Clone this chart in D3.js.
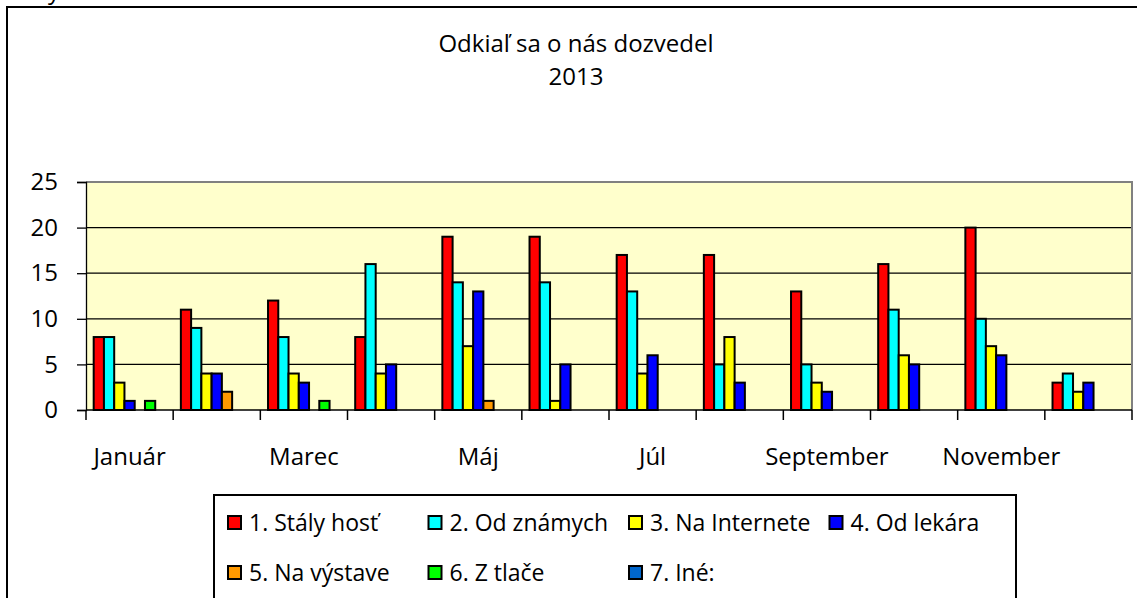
<!DOCTYPE html>
<html>
<head>
<meta charset="utf-8">
<script src="https://cdn.jsdelivr.net/npm/d3@7"></script>
<style>
  body { margin: 0; background: #fff; }
  svg text { font-family: "Open Sans", sans-serif; fill: #000; }
</style>
</head>
<body>
<div id="chart"></div>
<script>
// months on the x axis (only every second one gets a label)
const months = ["Január", "Február", "Marec", "Apríl", "Máj", "Jún", "Júl", "August", "September", "Október", "November", "December"];
const shownMonths = ["Január", "Marec", "Máj", "Júl", "September", "November"];

const seriesNames = ["1. Stály hosť", "2. Od známych", "3. Na Internete", "4. Od lekára", "5. Na výstave", "6. Z tlače", "7. Iné:"];
const seriesColors = ["#ff0000", "#00ffff", "#ffff00", "#0000ff", "#ff9900", "#00ff00", "#0066cc"];

// values per series, Jan..Dec
const stalyHost   = [8, 11, 12, 8, 19, 19, 17, 17, 13, 16, 20, 3];
const odZnamych   = [8, 9, 8, 16, 14, 14, 13, 5, 5, 11, 10, 4];
const naInternete = [3, 4, 4, 4, 7, 1, 4, 8, 3, 6, 7, 2];
const odLekara    = [1, 4, 3, 5, 13, 5, 6, 3, 2, 5, 6, 3];
const naVystave   = [0, 2, 0, 0, 1, 0, 0, 0, 0, 0, 0, 0];
const zTlace      = [1, 0, 1, 0, 0, 0, 0, 0, 0, 0, 0, 0];
const ine         = [0, 0, 0, 0, 0, 0, 0, 0, 0, 0, 0, 0];

const yTicks = [0, 5, 10, 15, 20, 25];

const allSeries = [stalyHost, odZnamych, naInternete, odLekara, naVystave, zTlace, ine];

const width = 1137, height = 598;
const plot = {left: 86, top: 182, right: 1132, bottom: 410};

const svg = d3.select("#chart").append("svg")
    .attr("width", width)
    .attr("height", height);

// cut off text above the chart frame
svg.append("text")
    .attr("x", 48).attr("y", -1.5)
    .style("font-size", "24px")
    .text("y");

// chart area border (right/bottom run off the picture)
svg.append("rect")
    .attr("x", 7).attr("y", 7)
    .attr("width", 1200).attr("height", 700)
    .attr("fill", "none")
    .attr("stroke", "#000")
    .attr("stroke-width", 2);

// title
const title = svg.append("text")
    .attr("text-anchor", "middle")
    .style("font-size", "24px");
title.append("tspan").attr("x", 576).attr("y", 52).text("Odkiaľ sa o nás dozvedel");
title.append("tspan").attr("x", 576).attr("y", 85).text("2013");

// scales
var x0 = d3.scaleBand()
    .domain(months)
    .range([plot.left, plot.right])
    .padding(0);

// excel style gap width 150%
var gap = 0.75 / 8.5;
var x1 = d3.scaleBand()
    .domain(d3.range(seriesNames.length))
    .range([x0.bandwidth() * gap, x0.bandwidth() * (1 - gap)])
    .padding(0);

var y = d3.scaleLinear()
    .domain([0, 25])
    .range([plot.bottom, plot.top]);

// plot background
svg.append("rect")
    .attr("x", plot.left).attr("y", plot.top)
    .attr("width", plot.right - plot.left)
    .attr("height", plot.bottom - plot.top)
    .attr("fill", "#ffffcc");

// gridlines
svg.append("g")
    .selectAll("line")
    .data(yTicks.filter(d => d > 0 && d < 25))
    .enter().append("line")
        .attr("x1", plot.left).attr("x2", plot.right)
        .attr("y1", d => y(d)).attr("y2", d => y(d))
        .attr("stroke", "#000")
        .attr("stroke-width", 1.3);

// plot border top and right (gray)
svg.append("path")
    .attr("d", "M" + plot.left + "," + y(25) + "H" + plot.right + "V" + plot.bottom)
    .attr("fill", "none")
    .attr("stroke", "#808080")
    .attr("stroke-width", 2);

// bars
var groups = svg.append("g")
    .selectAll("g")
    .data(months)
    .enter().append("g")
        .attr("transform", d => "translate(" + x0(d) + ",0)");

groups.selectAll("rect")
    .data((m, i) => allSeries.map((s, k) => ({k: k, v: s[i]})).filter(d => d.v > 0))
    .enter().append("rect")
        .attr("x", d => x1(d.k))
        .attr("y", d => y(d.v))
        .attr("width", x1.bandwidth())
        .attr("height", d => y(0) - y(d.v))
        .attr("fill", d => seriesColors[d.k])
        .attr("stroke", "#000")
        .attr("stroke-width", 2);

// y axis
var yAxis = d3.axisLeft(y)
    .tickValues(yTicks)
    .tickSize(9)
    .tickPadding(19);

var gy = svg.append("g")
    .attr("transform", "translate(" + plot.left + ",0)")
    .call(yAxis);
gy.select(".domain").attr("stroke", "#000").attr("stroke-width", 1.3);
gy.selectAll(".tick line").attr("stroke", "#000").attr("stroke-width", 1.3);
gy.selectAll(".tick text")
    .style("font-size", "24px")
    .style("font-family", "'Open Sans', sans-serif")
    .attr("fill", "#000");

// x axis: tick marks at category boundaries
svg.append("line")
    .attr("x1", plot.left).attr("x2", plot.right)
    .attr("y1", plot.bottom).attr("y2", plot.bottom)
    .attr("stroke", "#000")
    .attr("stroke-width", 1.5);

var bounds = months.map(m => x0(m)).concat([plot.right]);
svg.append("g")
    .selectAll("line")
    .data(bounds)
    .enter().append("line")
        .attr("x1", d => d).attr("x2", d => d)
        .attr("y1", plot.bottom).attr("y2", plot.bottom + 10)
        .attr("stroke", "#000")
        .attr("stroke-width", 1.5);

svg.append("g")
    .selectAll("text")
    .data(shownMonths)
    .enter().append("text")
        .attr("x", d => x0(d) + x0.bandwidth() / 2)
        .attr("y", 465)
        .attr("text-anchor", "middle")
        .style("font-size", "24px")
        .text(d => d);

// legend
var legend = {left: 214, top: 495, right: 1016};
svg.append("rect")
    .attr("x", legend.left).attr("y", legend.top)
    .attr("width", legend.right - legend.left)
    .attr("height", 200)
    .attr("fill", "#fff")
    .attr("stroke", "#000")
    .attr("stroke-width", 2);

var colW = 200.5, rowH = 50;
var items = svg.append("g")
    .selectAll("g")
    .data(seriesNames)
    .enter().append("g")
        .attr("transform", (d, i) => "translate(" + (legend.left + 14 + (i % 4) * colW) + "," + (legend.top + 28 + Math.floor(i / 4) * rowH) + ")");

items.append("rect")
    .attr("x", 0).attr("y", -7)
    .attr("width", 13).attr("height", 13)
    .attr("fill", (d, i) => seriesColors[i])
    .attr("stroke", "#000")
    .attr("stroke-width", 2);

items.append("text")
    .attr("x", 21)
    .attr("y", 8)
    .style("font-size", "23px")
    .text(d => d);
</script>
</body>
</html>
